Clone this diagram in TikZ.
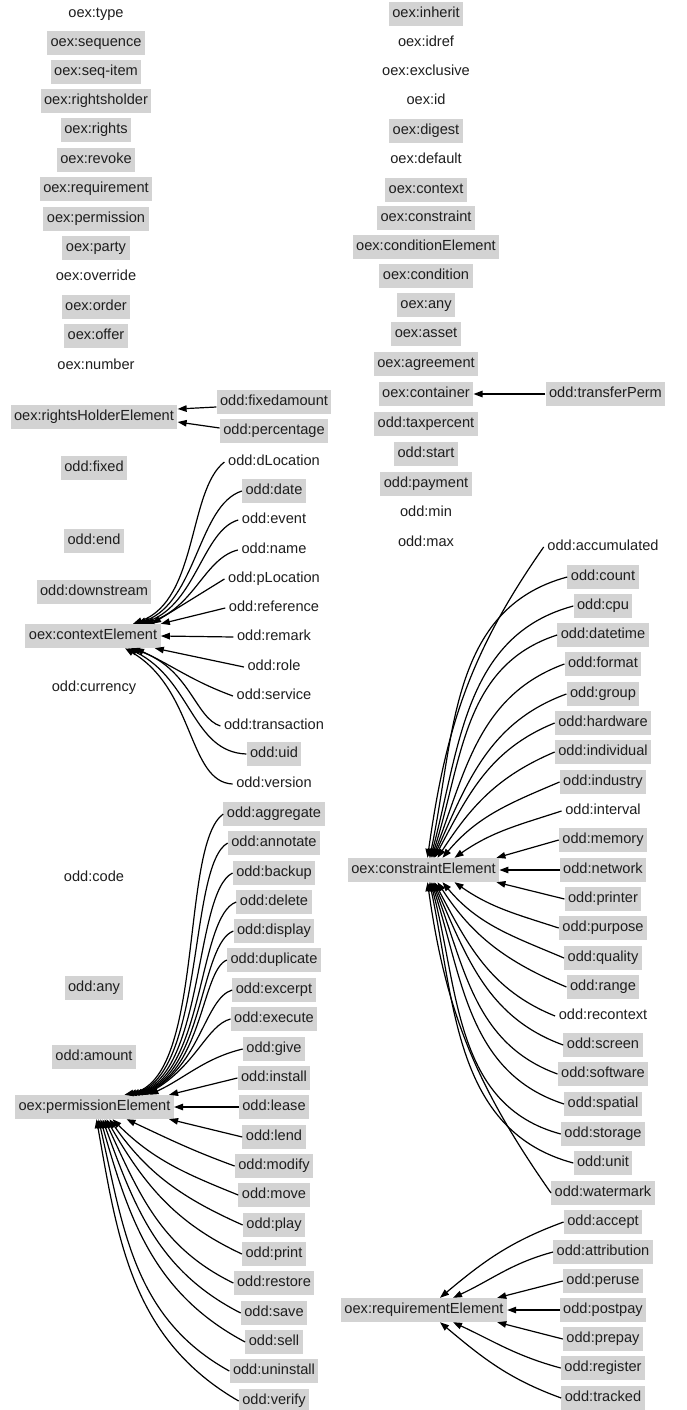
\documentclass[tikz,border=0pt]{standalone}
\usepackage{fontspec}
\setmainfont{Liberation Sans}
\usetikzlibrary{arrows.meta}
\definecolor{boxgray}{RGB}{211,211,211}
\definecolor{textc}{RGB}{30,30,30}
\begin{document}
\begin{tikzpicture}[x=1pt,y=1pt,
 base/.style={font=\fontsize{14.6}{17}\selectfont, text=textc, minimum height=24pt, inner xsep=3.5pt, inner ysep=0pt, text height=10.6pt, text depth=3.2pt},
 g/.style={base, fill=boxgray},
 p/.style={base},
 arr/.style={line width=1.2pt, -{Triangle[length=9pt,width=6.5pt]}},
]
\fill[white] (0,0) rectangle (687,-1410);
\useasboundingbox (0,0) rectangle (687,-1410);
% left top column
\foreach \n/\y in {type/14, override/277, number/366} \node[p] (L\n) at (96,-\y) {oex:\n};
\foreach \n/\y in {sequence/43, seq-item/72, rightsholder/101, rights/130, revoke/160, requirement/189, permission/219, party/248, order/307, offer/336} \node[g] (L\n) at (96,-\y) {oex:\n};
% right top column
\foreach \n/\y in {idref/43, exclusive/72, id/101, default/160} \node[p] (R\n) at (426,-\y) {oex:\n};
\foreach \n/\y in {inherit/14, digest/131, context/190, constraint/218, conditionElement/247, condition/276, any/305, asset/334, agreement/364, container/394} \node[g] (R\n) at (426,-\y) {oex:\n};
\foreach \n/\y in {taxpercent/424, start/454, payment/484} \node[g] (R\n) at (426,-\y) {odd:\n};
\foreach \n/\y in {min/513, max/543} \node[p] (R\n) at (426,-\y) {odd:\n};
\node[g] (transferPerm) at (605.5,-394) {odd:transferPerm};
% left lower
\node[g] (rhe) at (94,-417) {oex:rightsHolderElement};
\node[g] (fixedamount) at (274,-402) {odd:fixedamount};
\node[g] (percentage) at (274,-431) {odd:percentage};
\node[g] (fixed) at (94,-468) {odd:fixed};
\node[g] (oddend) at (94,-541) {odd:end};
\node[g] (downstream) at (94,-592) {odd:downstream};
\node[g] (ctx) at (93,-636) {oex:contextElement};
\node[p] (currency) at (94,-688) {odd:currency};
\foreach \n/\y in {dLocation/462, event/520, name/550, pLocation/579, reference/608, remark/637, role/667, service/696, transaction/726, version/784} \node[p] (X\n) at (274,-\y) {odd:\n};
\foreach \n/\y in {date/491, uid/754} \node[g] (X\n) at (274,-\y) {odd:\n};
\node[p] (code) at (94,-878) {odd:code};
\node[g] (oddany) at (94,-988) {odd:any};
\node[g] (amount) at (94,-1057) {odd:amount};
\node[g] (pe) at (94.5,-1107) {oex:permissionElement};
\foreach \n/\y in {aggregate/814, annotate/843, backup/873, delete/902, display/931, duplicate/960, excerpt/990, execute/1019, give/1049, install/1078, lease/1107, lend/1137, modify/1166, move/1195, play/1225, print/1254, restore/1283, save/1313, sell/1342, uninstall/1371, verify/1401} \node[g] (P\n) at (274,-\y) {odd:\n};
% constraint
\node[g] (cel) at (423.5,-870) {oex:constraintElement};
\foreach \n/\y in {accumulated/547, interval/811, recontext/1016} \node[p] (C\n) at (603,-\y) {odd:\n};
\foreach \n/\y in {count/577, cpu/606, datetime/635, format/664, group/694, hardware/723, individual/752, industry/782, memory/840, network/870, printer/899, purpose/928, quality/958, range/987, screen/1045, software/1074, spatial/1104, storage/1134, unit/1163, watermark/1193} \node[g] (C\n) at (603,-\y) {odd:\n};
% requirement
\node[g] (rel) at (424,-1310) {oex:requirementElement};
\foreach \n/\y in {accept/1222, attribution/1252, peruse/1281, postpay/1310, prepay/1339, register/1368, tracked/1398} \node[g] (Q\n) at (603,-\y) {odd:\n};

% edges: rightsHolderElement, container
\draw[arr] ([yshift=-5]fixedamount.west) -- ([yshift=8]rhe.east);
\draw[arr] ([yshift=3]percentage.west) -- ([yshift=-5]rhe.east);
\draw[arr] (transferPerm.west) -- (Rcontainer.east);

% context edges
\draw[arr] (XdLocation.west) .. controls (188,-490) and (198,-600) .. ([xshift=40]ctx.north);
\draw[arr] (Xdate.west) .. controls (198,-505) and (197,-602) .. ([xshift=44]ctx.north);
\draw[arr] (Xevent.west) .. controls (203,-530) and (196,-604) .. ([xshift=48]ctx.north);
\draw[arr] (Xname.west) .. controls (205,-558) and (195,-606) .. ([xshift=52]ctx.north);
\draw[arr] (XpLocation.west) -- ([xshift=59]ctx.north);
\draw[arr] (Xreference.west) -- (ctx.north east);
\draw[arr] (Xremark.west) -- (ctx.east);
\draw[arr] (Xrole.west) -- ([xshift=-6]ctx.south east);
\draw[arr] (Xservice.west) to[out=160,in=-25] ([xshift=42]ctx.south);
\draw[arr] (Xtransaction.west) .. controls (195,-718) and (190,-668) .. ([xshift=38]ctx.south);
\draw[arr] (Xuid.west) .. controls (192,-752) and (192,-680) .. ([xshift=35]ctx.south);
\draw[arr] (Xversion.west) .. controls (188,-782) and (195,-690) .. ([xshift=32]ctx.south);

% permission edges
\draw[arr] (Paggregate.west) .. controls (180,-845) and (205,-1078) .. ([xshift=30]pe.north);
\draw[arr] (Pannotate.west) .. controls (188,-865) and (205,-1076) .. ([xshift=33]pe.north);
\draw[arr] (Pbackup.west) .. controls (194,-892) and (205,-1074) .. ([xshift=36]pe.north);
\draw[arr] (Pdelete.west) .. controls (198,-916) and (205,-1072) .. ([xshift=39]pe.north);
\draw[arr] (Pdisplay.west) .. controls (200,-944) and (204,-1070) .. ([xshift=42]pe.north);
\draw[arr] (Pduplicate.west) .. controls (202,-970) and (203,-1068) .. ([xshift=45]pe.north);
\draw[arr] (Pexcerpt.west) .. controls (205,-998) and (200,-1066) .. ([xshift=48]pe.north);
\draw[arr] (Pexecute.west) .. controls (207,-1025) and (196,-1066) .. ([xshift=51]pe.north);
\draw[arr] (Pgive.west) .. controls (205,-1058) and (185,-1078) .. ([xshift=55]pe.north);
\draw[arr] (Pinstall.west) -- ([xshift=-5]pe.north east);
\draw[arr] (Please.west) -- (pe.east);
\draw[arr] (Plend.west) -- ([xshift=-5]pe.south east);
\foreach \n/\dx/\o/\i in {modify/32/160/-25, move/18/158/-45, play/15/156/-55, print/12/155/-60, restore/10/154/-65, save/8/153/-70, sell/6/152/-74, uninstall/4/151/-77, verify/2/150/-80}
  \draw[arr] (P\n.west) to[out=\o,in=\i] ([xshift=\dx]pe.south);

% constraint edges
\foreach \n/\dx/\o/\i in {accumulated/4/235/82, count/6/195/78, cpu/7/195/75, datetime/8/198/72, format/9/200/69, group/10/200/66, hardware/11/202/62, individual/14/203/57, industry/19/203/50, interval/31/198/35}
  \draw[arr] (C\n.west) to[out=\o,in=\i] ([xshift=\dx]cel.north);
\draw[arr] (Cmemory.west) -- ([xshift=-3]cel.north east);
\draw[arr] (Cnetwork.west) -- (cel.east);
\draw[arr] (Cprinter.west) -- ([xshift=-3]cel.south east);
\foreach \n/\dx/\o/\i in {purpose/31/162/-35, quality/19/157/-50, range/14/157/-57, recontext/11/158/-62, screen/10/160/-66, software/9/160/-69, spatial/8/162/-72, storage/7/165/-75, unit/6/165/-78, watermark/4/125/-82}
  \draw[arr] (C\n.west) to[out=\o,in=\i] ([xshift=\dx]cel.south);

% requirement edges
\draw[arr] (Qaccept.west) to[out=200,in=40] ([xshift=16]rel.north);
\draw[arr] (Qattribution.west) to[out=195,in=25] ([xshift=29]rel.north);
\draw[arr] (Qperuse.west) -- ([xshift=-10]rel.north east);
\draw[arr] (Qpostpay.west) -- (rel.east);
\draw[arr] (Qprepay.west) -- ([xshift=-10]rel.south east);
\draw[arr] (Qregister.west) to[out=165,in=-25] ([xshift=29]rel.south);
\draw[arr] (Qtracked.west) to[out=160,in=-40] ([xshift=16]rel.south);
\end{tikzpicture}
\end{document}
